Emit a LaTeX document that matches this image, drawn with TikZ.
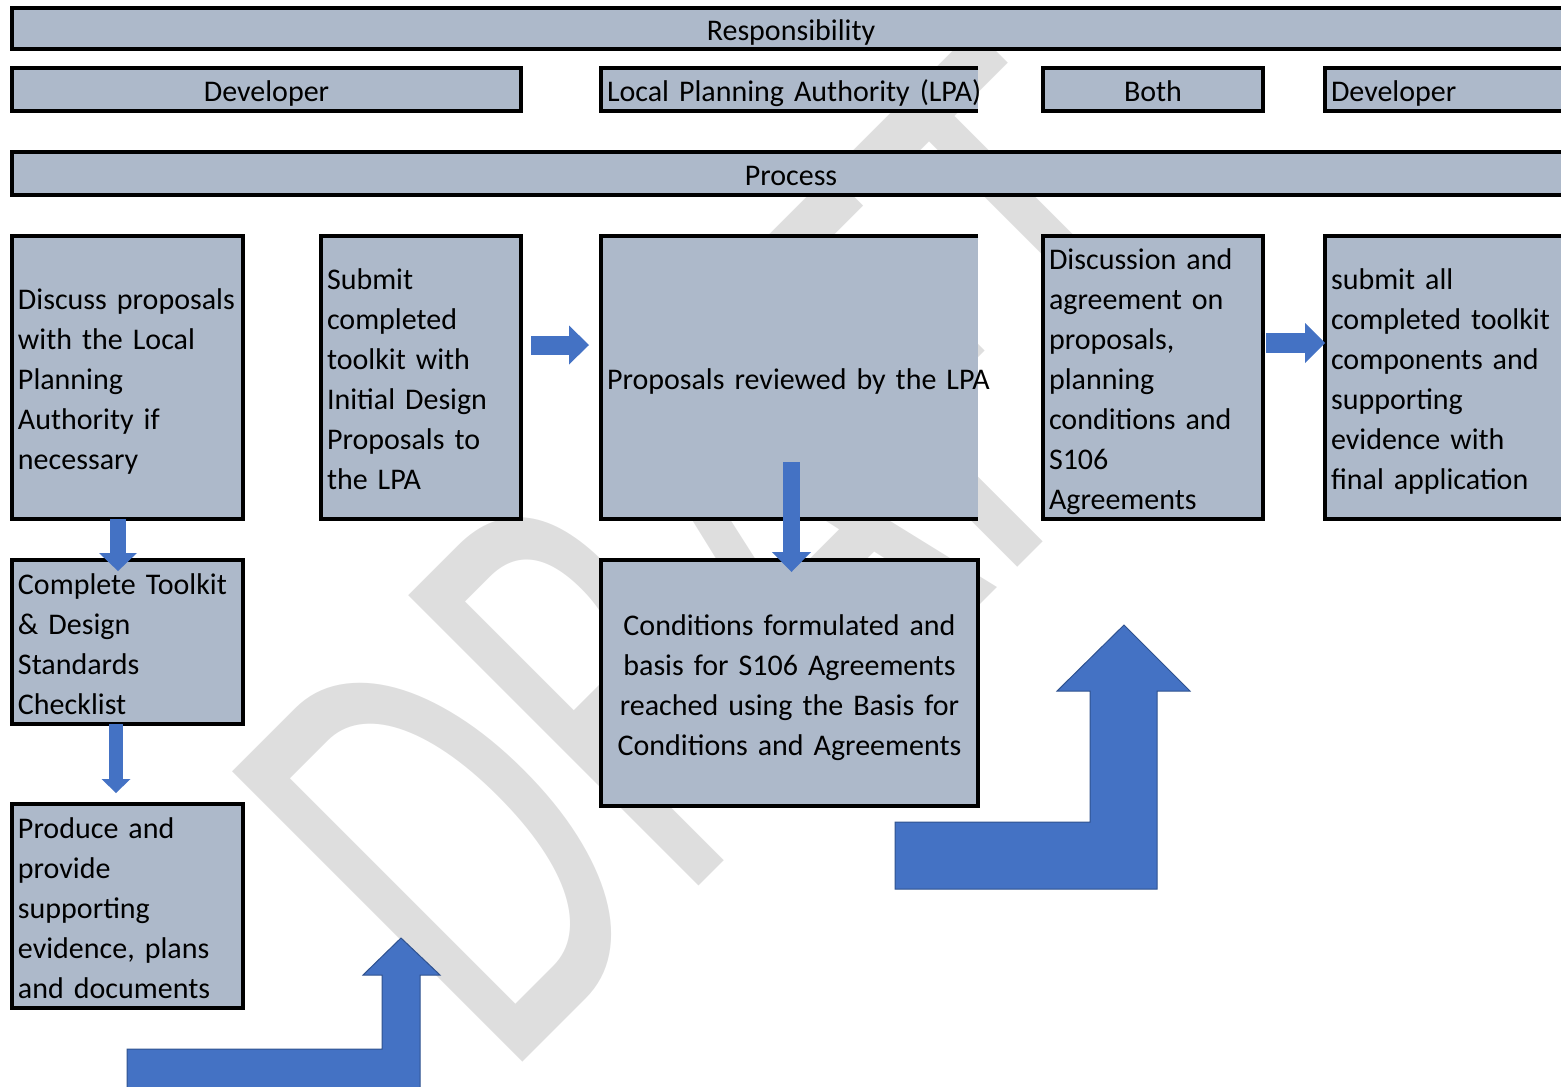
\documentclass[tikz,border=0pt]{standalone}
\usepackage{fontspec}
\setmainfont{Carlito}
\usepackage{tikz}
\usetikzlibrary{arrows.meta,calc,positioning}
\definecolor{cellfill}{HTML}{ADB9CA}
\definecolor{arrowblue}{HTML}{4472C4}
\definecolor{arrowedge}{HTML}{2F528F}
\definecolor{wmgray}{HTML}{DEDEDE}
\newcommand{\cellstrut}{\rule[-4pt]{0pt}{20pt}}
\tikzset{%
	cell/.style      = {draw, line width=1.6pt, fill=cellfill, anchor=north west, outer sep=0pt, inner xsep=3pt, inner ysep=0pt, font=\fontsize{15pt}{20pt}\selectfont, execute at begin node=\cellstrut, execute at end node=\cellstrut},
	opencell/.style  = {cell, draw=none},
	rim/.style       = {line width=1.6pt},
	flow/.style      = {draw=arrowblue, line width=#1},
	bent/.style      = {fill=arrowblue, draw=arrowedge, line width=0.5pt},
	watermark/.style = {text=wmgray, font=\fontsize{320pt}{320pt}\selectfont, inner sep=0pt, anchor=base west, rotate=45, xscale=0.63},
}

\begin{document}
\begin{tikzpicture}[x=0.5pt,y=-0.5pt]
	\useasboundingbox (0,0) rectangle (1561,1086);
	\clip (0,0) rectangle (1561,1086);
	\node[watermark] (draft) at (503,1082) {DRAFT};
	% headings
	\node[cell, minimum width=779pt, minimum height=20.5pt] (resp) at (12,8) {Responsibility};
	\node[cell, minimum width=254.5pt, minimum height=21.5pt] (devA) at (12,68) {Developer};
	\node[opencell, minimum height=21.5pt, text width=182.5pt, align=left] (lpa) at (601,68) {\mbox{Local Planning Authority (LPA)}};
	\draw[rim] (lpa.north east) -- (lpa.north west) -- (lpa.south west) -- (lpa.south east);
	\node[cell, minimum width=110pt, minimum height=21.5pt] (both) at (1043,68) {Both};
	\node[cell, minimum height=21.5pt, text width=119pt, align=left] (devB) at (1325,68) {Developer};
	\node[cell, minimum width=779pt, minimum height=21.5pt] (process) at (12,152) {Process};
	% process steps
	\node[cell, minimum height=141.5pt, text width=109.5pt, align=left] (discuss) at (12,236) {Discuss proposals\\with the Local\\Planning\\Authority if\\necessary};
	\node[cell, minimum height=141.5pt, text width=94pt, align=left] (submit) at (321,236) {Submit\\completed\\toolkit with\\Initial Design\\Proposals to\\the LPA};
	\node[opencell, minimum height=141.5pt, text width=182.5pt, align=left] (reviewed) at (601,236) {\mbox{Proposals reviewed by the LPA}};
	\draw[rim] (reviewed.north east) -- (reviewed.north west) -- (reviewed.south west) -- (reviewed.south east);
	\node[cell, minimum height=141.5pt, text width=104pt, align=left] (discussion) at (1043,236) {Discussion and\\agreement on\\proposals,\\planning\\conditions and\\S106\\Agreements};
	\node[cell, minimum height=141.5pt, text width=119pt, align=left] (submitall) at (1325,236) {submit all\\completed toolkit\\components and\\supporting\\evidence with\\final application};
	\node[cell, minimum height=82pt, text width=109.5pt, align=left] (check) at (12,560) {Complete Toolkit\\\& Design\\Standards\\Checklist};
	\node[cell, minimum height=123pt, text width=182.5pt, align=center] (conditions) at (601,560) {Conditions formulated and\\basis for S106 Agreements\\reached using the Basis for\\Conditions and Agreements};
	\node[cell, minimum height=102pt, text width=109.5pt, align=left] (produce) at (12,804) {Produce and\\provide\\supporting\\evidence, plans\\and documents};
	% arrows
	\draw[flow=8pt, -{Triangle[width=19pt,length=9pt,line width=0pt]}] ([xshift=-4.75pt]discuss.south) -- ([xshift=-4.75pt,yshift=-5.5pt]check.north);
	\draw[flow=7pt, -{Triangle[width=14.5pt,length=7pt,line width=0pt]}] ([xshift=-5.75pt]check.south) -- ([xshift=-5.75pt,yshift=5.5pt]produce.north);
	\draw[flow=9.5pt, -{Triangle[width=19.5pt,length=10pt,line width=0pt]}] ([xshift=5pt,yshift=16.25pt]submit.east) -- ([xshift=-6pt,yshift=16.25pt]reviewed.west);
	\draw[flow=8.5pt, -{Triangle[width=19.5pt,length=10pt,line width=0pt]}] ([xshift=1pt,yshift=28.5pt]reviewed.south) -- ([xshift=1pt,yshift=-6pt]conditions.north);
	\draw[flow=10pt, -{Triangle[width=20pt,length=10pt,line width=0pt]}] ([xshift=1.5pt,yshift=17.25pt]discussion.east) -- ([yshift=17.25pt]submitall.west);
	\draw[bent] (127,1049) -- (382,1049) -- (382,975) -- (363,975) -- (401,938) -- (440,975) -- (420,975) -- (420,1095) -- (127,1095) -- cycle;
	\draw[bent] (895,822) -- (1090,822) -- (1090,691) -- (1057,691) -- (1124,625) -- (1190,691) -- (1157,691) -- (1157,889) -- (895,889) -- cycle;
\end{tikzpicture}
\end{document}
